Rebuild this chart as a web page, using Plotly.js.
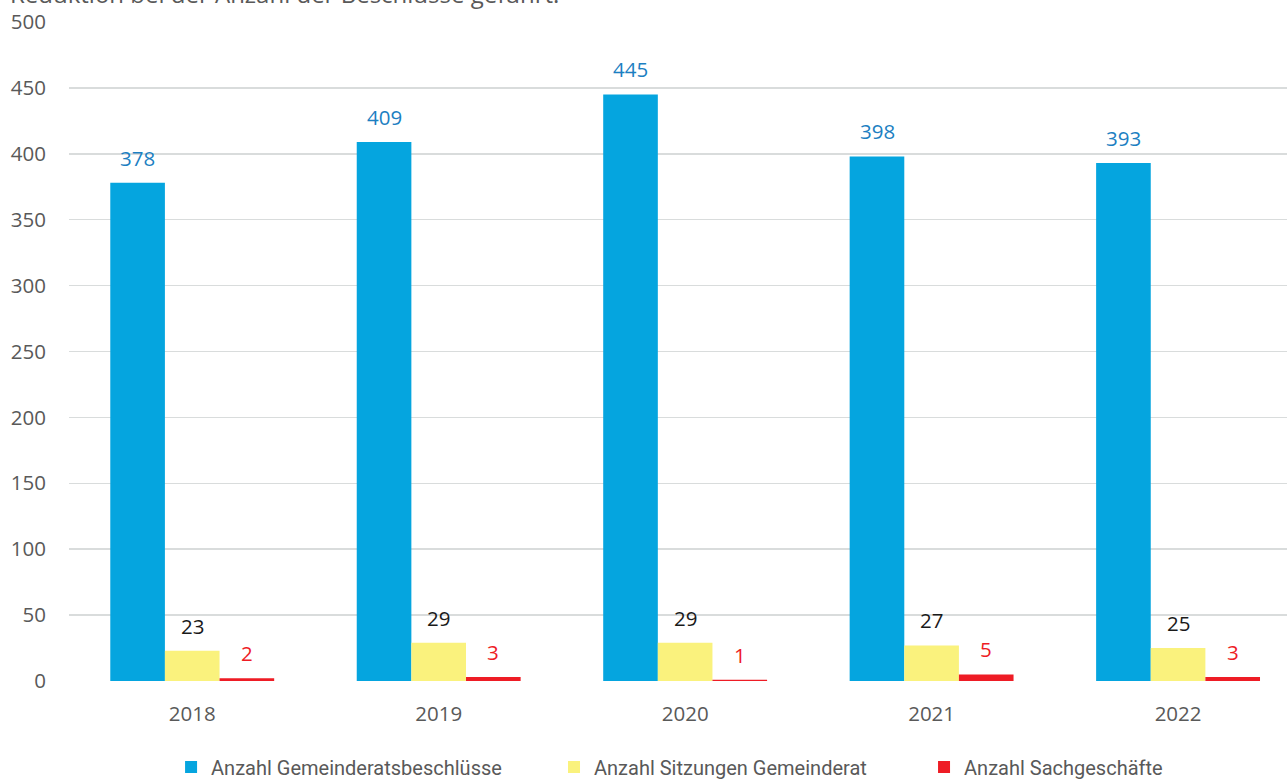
<!DOCTYPE html>
<html>
<head>
<meta charset="utf-8">
<script src="https://cdn.plot.ly/plotly-3.0.1.min.js"></script>
<style>
html, body { margin: 0; padding: 0; overflow: hidden; background: #fff; }
#chart { width: 1287px; height: 782px; }
</style>
</head>
<body>
<div id="chart"></div>
<script>
const years = ["2018", "2019", "2020", "2021", "2022"];
const seriesNames = ["Anzahl Gemeinderatsbeschlüsse", "Anzahl Sitzungen Gemeinderat", "Anzahl Sachgeschäfte"];
const beschluesse = [378, 409, 445, 398, 393];
const sitzungen = [23, 29, 29, 27, 25];
const sachgeschaefte = [2, 3, 1, 5, 3];
const yTicks = [0, 50, 100, 150, 200, 250, 300, 350, 400, 450, 500];
const topText = "Reduktion bei der Anzahl der Beschlüsse geführt.";

const barColors = ["#05A5DF", "#FAF27D", "#EE1C25"];
const labelColors = ["#1C7FC2", "#1a1a1a", "#EE1C25"];
const allSeries = [beschluesse, sitzungen, sachgeschaefte];
const legendIds = ["legend", "legend2", "legend3"];
const legendX = [0.0838, 0.3982, 0.7020];

const traces = allSeries.map((vals, i) => ({
  type: "bar",
  name: seriesNames[i],
  x: years,
  y: vals,
  legend: legendIds[i],
  marker: { color: barColors[i] },
  hoverinfo: "x+y+name"
}));

const barW = 0.2215;
const annotations = [];
allSeries.forEach((vals, i) => {
  vals.forEach((v, j) => {
    annotations.push({
      x: j + (i - 1) * barW,
      y: v,
      xref: "x",
      yref: "y",
      text: String(v),
      showarrow: false,
      yanchor: "middle",
      yshift: 25,
      font: { family: "Open Sans, Noto Sans, sans-serif", size: 20.5, color: labelColors[i] }
    });
  });
});
annotations.push({
  xref: "paper", yref: "paper",
  x: -0.05, y: 1.0,
  xanchor: "left", yanchor: "middle",
  yshift: 29,
  text: topText,
  showarrow: false,
  font: { family: "Open Sans, Noto Sans, sans-serif", size: 24, color: "#595959" }
});

const legendFont = { family: "Roboto, sans-serif", size: 20, color: "#595959" };
function mkLegend(x) {
  return {
    orientation: "h",
    x: x, xanchor: "left",
    y: -0.1305, yanchor: "middle",
    font: legendFont,
    itemwidth: 30,
    bgcolor: "rgba(0,0,0,0)"
  };
}

const layout = {
  width: 1287,
  height: 782,
  margin: { l: 69, r: 0, t: 22, b: 101, autoexpand: false },
  paper_bgcolor: "#ffffff",
  plot_bgcolor: "#ffffff",
  barmode: "group",
  bargap: 0.335,
  bargroupgap: 0,
  showlegend: true,
  legend: mkLegend(legendX[0]),
  legend2: mkLegend(legendX[1]),
  legend3: mkLegend(legendX[2]),
  xaxis: {
    type: "category",
    range: [-0.5, 4.442],
    showgrid: false,
    zeroline: false,
    showline: false,
    ticks: "",
    ticklabelstandoff: 18,
    tickfont: { family: "Open Sans, Noto Sans, sans-serif", size: 20.5, color: "#595959" },
    fixedrange: true
  },
  yaxis: {
    range: [0, 500],
    tickvals: yTicks,
    ticktext: yTicks.map(String),
    showgrid: true,
    gridcolor: "#D9DCDC",
    gridwidth: 1.5,
    zeroline: false,
    showline: false,
    ticks: "",
    ticklabelstandoff: 22,
    tickfont: { family: "Open Sans, Noto Sans, sans-serif", size: 20.5, color: "#595959" },
    fixedrange: true
  },
  annotations: annotations
};

Plotly.newPlot("chart", traces, layout, { displayModeBar: false, staticPlot: true });
</script>
</body>
</html>
